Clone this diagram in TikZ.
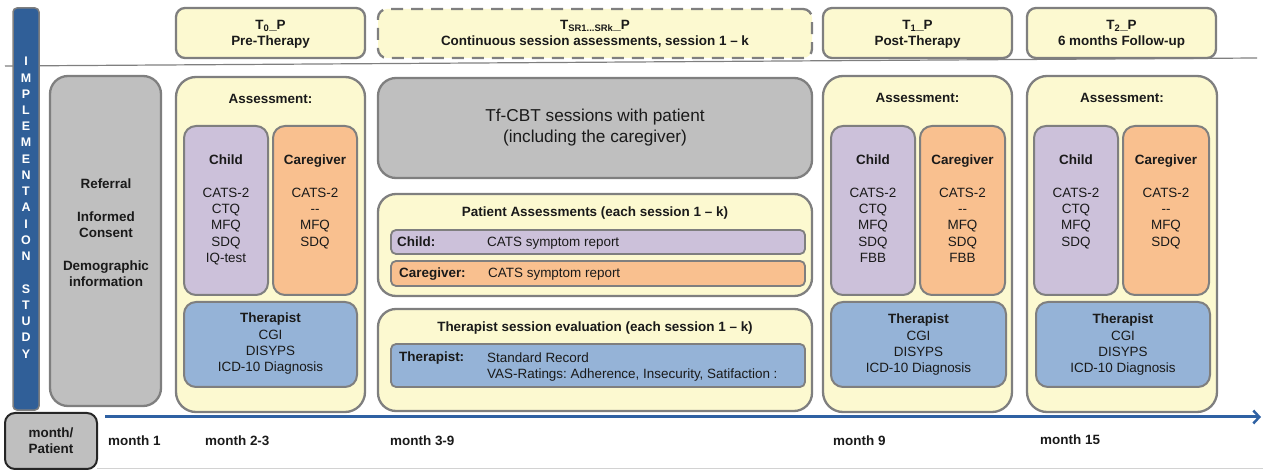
\documentclass[tikz,border=0pt]{standalone}
\usepackage{fontspec}
\setmainfont{Liberation Sans}
\usetikzlibrary{arrows.meta}
\frenchspacing
\definecolor{yel}{HTML}{FCF9D0}
\definecolor{bord}{HTML}{7F7F7F}
\definecolor{grayfill}{HTML}{BFBFBF}
\definecolor{purp}{HTML}{CCC1DA}
\definecolor{oran}{HTML}{F9C08F}
\definecolor{blu}{HTML}{95B3D7}
\definecolor{barblue}{HTML}{305F98}
\definecolor{arrblue}{HTML}{2F61A3}
\definecolor{txt}{HTML}{1A1A1A}
\newcommand{\bx}[6]{\node[#6, minimum width={#4bp-#2bp}, minimum height={#5bp-#3bp}, anchor=north west] (#1) at (#2,#3) {};}
\tikzset{
  box/.style={draw=bord, line width=2.3bp, rounded corners=#1, inner sep=0pt, outer sep=0pt},
  box/.default=10bp,
  big/.style={box=20bp, fill=yel},
  hdr/.style={box=9bp, fill=yel},
  sub/.style={box=12bp, line width=2bp},
  barbox/.style={box=5bp, line width=1.8bp},
  t/.style={font=\fontsize{13.5}{16.3}\selectfont, text=txt, align=center, inner sep=0pt},
  tb/.style={t, font=\fontsize{13.5}{16.3}\selectfont\bfseries},
}
\begin{document}
\begin{tikzpicture}[x=1bp, y=-1bp]
\useasboundingbox (0,0) rectangle (1263,470);
% guide lines
\coordinate (hl1) at (5,66);
\coordinate (hl2) at (1257,58);
\draw[bord, line width=1.2bp] (hl1) -- (hl2);
\coordinate (bl1) at (97,468.5);
\coordinate (bl2) at (1263,468.5);
\draw[gray!35, line width=1bp] (bl1) -- (bl2);

% vertical bar
\bx{vbar}{13}{8}{39}{410}{box=4bp, fill=barblue, draw=bord, line width=1.5bp}
\node[tb, text=white, font=\fontsize{12.5}{16.3}\selectfont\bfseries, anchor=north] (vtext) at (26,57)
 {I\\M\\P\\L\\E\\M\\E\\N\\T\\A\\I\\O\\N\\[16.3bp]S\\T\\U\\D\\Y};

% header boxes
\bx{h0}{176}{8}{365}{58}{hdr}
\bx{hs}{378}{9}{812}{58}{hdr, dash pattern=on 12bp off 8bp}
\bx{h1}{823}{8}{1012}{58}{hdr}
\bx{h2}{1027}{8}{1216}{58}{hdr}
\node[tb, anchor=north] (h0t) at (h0.north |- 0,20) {T\textsubscript{0}\_P\\Pre-Therapy};
\node[tb, anchor=north] (hst) at (hs.north |- 0,20) {T\textsubscript{SR1...SRk}\_P\\Continuous session assessments, session 1 -- k};
\node[tb, anchor=north] (h1t) at (h1.north |- 0,20) {T\textsubscript{1}\_P\\Post-Therapy};
\node[tb, anchor=north] (h2t) at (h2.north |- 0,20) {T\textsubscript{2}\_P\\6 months Follow-up};

% referral
\bx{ref}{50}{76}{161}{406}{box=18bp, fill=grayfill}
\node[tb, anchor=north] (reft) at (106,179) {Referral\\[16.3bp]Informed\\Consent\\[16.3bp]Demographic\\information};

% T0 big
\bx{b0}{176}{77}{365}{412}{big}
\node[tb, anchor=north] (b0a) at (b0.north |- 0,94) {Assessment:};
\bx{b0c}{184}{126}{268}{295}{sub, fill=purp}
\bx{b0g}{273}{126}{357}{295}{sub, fill=oran}
\bx{b0t}{184}{302}{357}{387}{sub, fill=blu}
\node[t, anchor=north] (b0ct) at (b0c.north |- 0,155) {\textbf{Child}\\[16.3bp]CATS-2\\CTQ\\MFQ\\SDQ\\IQ-test};
\node[t, anchor=north] (b0gt) at (b0g.north |- 0,155) {\textbf{Caregiver}\\[16.3bp]CATS-2\\-{}-\\MFQ\\SDQ};
\node[t, anchor=north] (b0tt) at (b0t.north |- 0,313) {\textbf{Therapist}\\CGI\\DISYPS\\ICD-10 Diagnosis};

% sessions
\bx{tf}{378}{78}{812}{178}{box=18bp, fill=grayfill}
\node[t, font=\fontsize{17.3}{21}\selectfont, anchor=north] (tft) at (tf.north |- 0,109) {Tf-CBT sessions with patient\\(including the caregiver)};

\bx{pa}{378}{194}{812}{296}{box=18bp, fill=yel}
\node[tb, anchor=base] (pat) at (pa.north |- 0,217) {Patient Assessments (each session 1 -- k)};
\bx{pac}{391}{230}{805}{254}{barbox, fill=purp}
\bx{pag}{391}{261}{805}{286}{barbox, fill=oran}
\node[tb, anchor=base west] (pacl) at (397,247) {Child:};
\node[t, anchor=base west] (pacr) at (487,247) {CATS symptom report};
\node[tb, anchor=base west] (pagl) at (399,278) {Caregiver:};
\node[t, anchor=base west] (pagr) at (488,278) {CATS symptom report};

\bx{te}{378}{309}{812}{411}{box=18bp, fill=yel}
\node[tb, anchor=base] (tet) at (te.north |- 0,332) {Therapist session evaluation (each session 1 -- k)};
\bx{tet2}{391}{344}{805}{387}{barbox, fill=blu}
\node[tb, anchor=base west] (tel) at (399,362) {Therapist:};
\node[t, anchor=base west, align=left] (ter) at (487,379) {Standard Record\\VAS-Ratings: Adherence, Insecurity, Satifaction :};

% T1 big
\bx{b1}{823}{76}{1012}{412}{big}
\node[tb, anchor=north] (b1a) at (b1.north |- 0,93) {Assessment:};
\bx{b1c}{831}{126}{915}{295}{sub, fill=purp}
\bx{b1g}{920}{126}{1005}{295}{sub, fill=oran}
\bx{b1t}{831}{302}{1006}{387}{sub, fill=blu}
\node[t, anchor=north] (b1ct) at (b1c.north |- 0,155) {\textbf{Child}\\[16.3bp]CATS-2\\CTQ\\MFQ\\SDQ\\FBB};
\node[t, anchor=north] (b1gt) at (b1g.north |- 0,155) {\textbf{Caregiver}\\[16.3bp]CATS-2\\-{}-\\MFQ\\SDQ\\FBB};
\node[t, anchor=north] (b1tt) at (b1t.north |- 0,314) {\textbf{Therapist}\\CGI\\DISYPS\\ICD-10 Diagnosis};

% T2 big
\bx{b2}{1027}{76}{1217}{412}{big}
\node[tb, anchor=north] (b2a) at (b2.north |- 0,93) {Assessment:};
\bx{b2c}{1034}{126}{1118}{295}{sub, fill=purp}
\bx{b2g}{1123}{126}{1209}{295}{sub, fill=oran}
\bx{b2t}{1036}{302}{1210}{387}{sub, fill=blu}
\node[t, anchor=north] (b2ct) at (b2c.north |- 0,155) {\textbf{Child}\\[16.3bp]CATS-2\\CTQ\\MFQ\\SDQ};
\node[t, anchor=north] (b2gt) at (b2g.north |- 0,155) {\textbf{Caregiver}\\[16.3bp]CATS-2\\-{}-\\MFQ\\SDQ};
\node[t, anchor=north] (b2tt) at (b2t.north |- 0,314) {\textbf{Therapist}\\CGI\\DISYPS\\ICD-10 Diagnosis};

% timeline
\coordinate (as) at (105,417);
\coordinate (ae) at (1261,417);
\draw[arrblue, line width=3bp, -{Straight Barb[length=6bp,width=13bp,line width=2.5bp]}] (as) -- (ae);
\bx{mp}{5}{413}{97}{469}{box=10bp, fill=grayfill, draw=black!85, line width=2bp}
\node[tb, anchor=center] (mpt) at (51,441) {month/\\Patient};
\node[tb, anchor=base west] (m1) at (108,446) {month 1};
\node[tb, anchor=base west] (m2) at (205,446) {month 2-3};
\node[tb, anchor=base west] (m3) at (390,446) {month 3-9};
\node[tb, anchor=base west] (m4) at (833,446) {month 9};
\node[tb, anchor=base west] (m5) at (1040,445) {month 15};
\end{tikzpicture}
\end{document}
